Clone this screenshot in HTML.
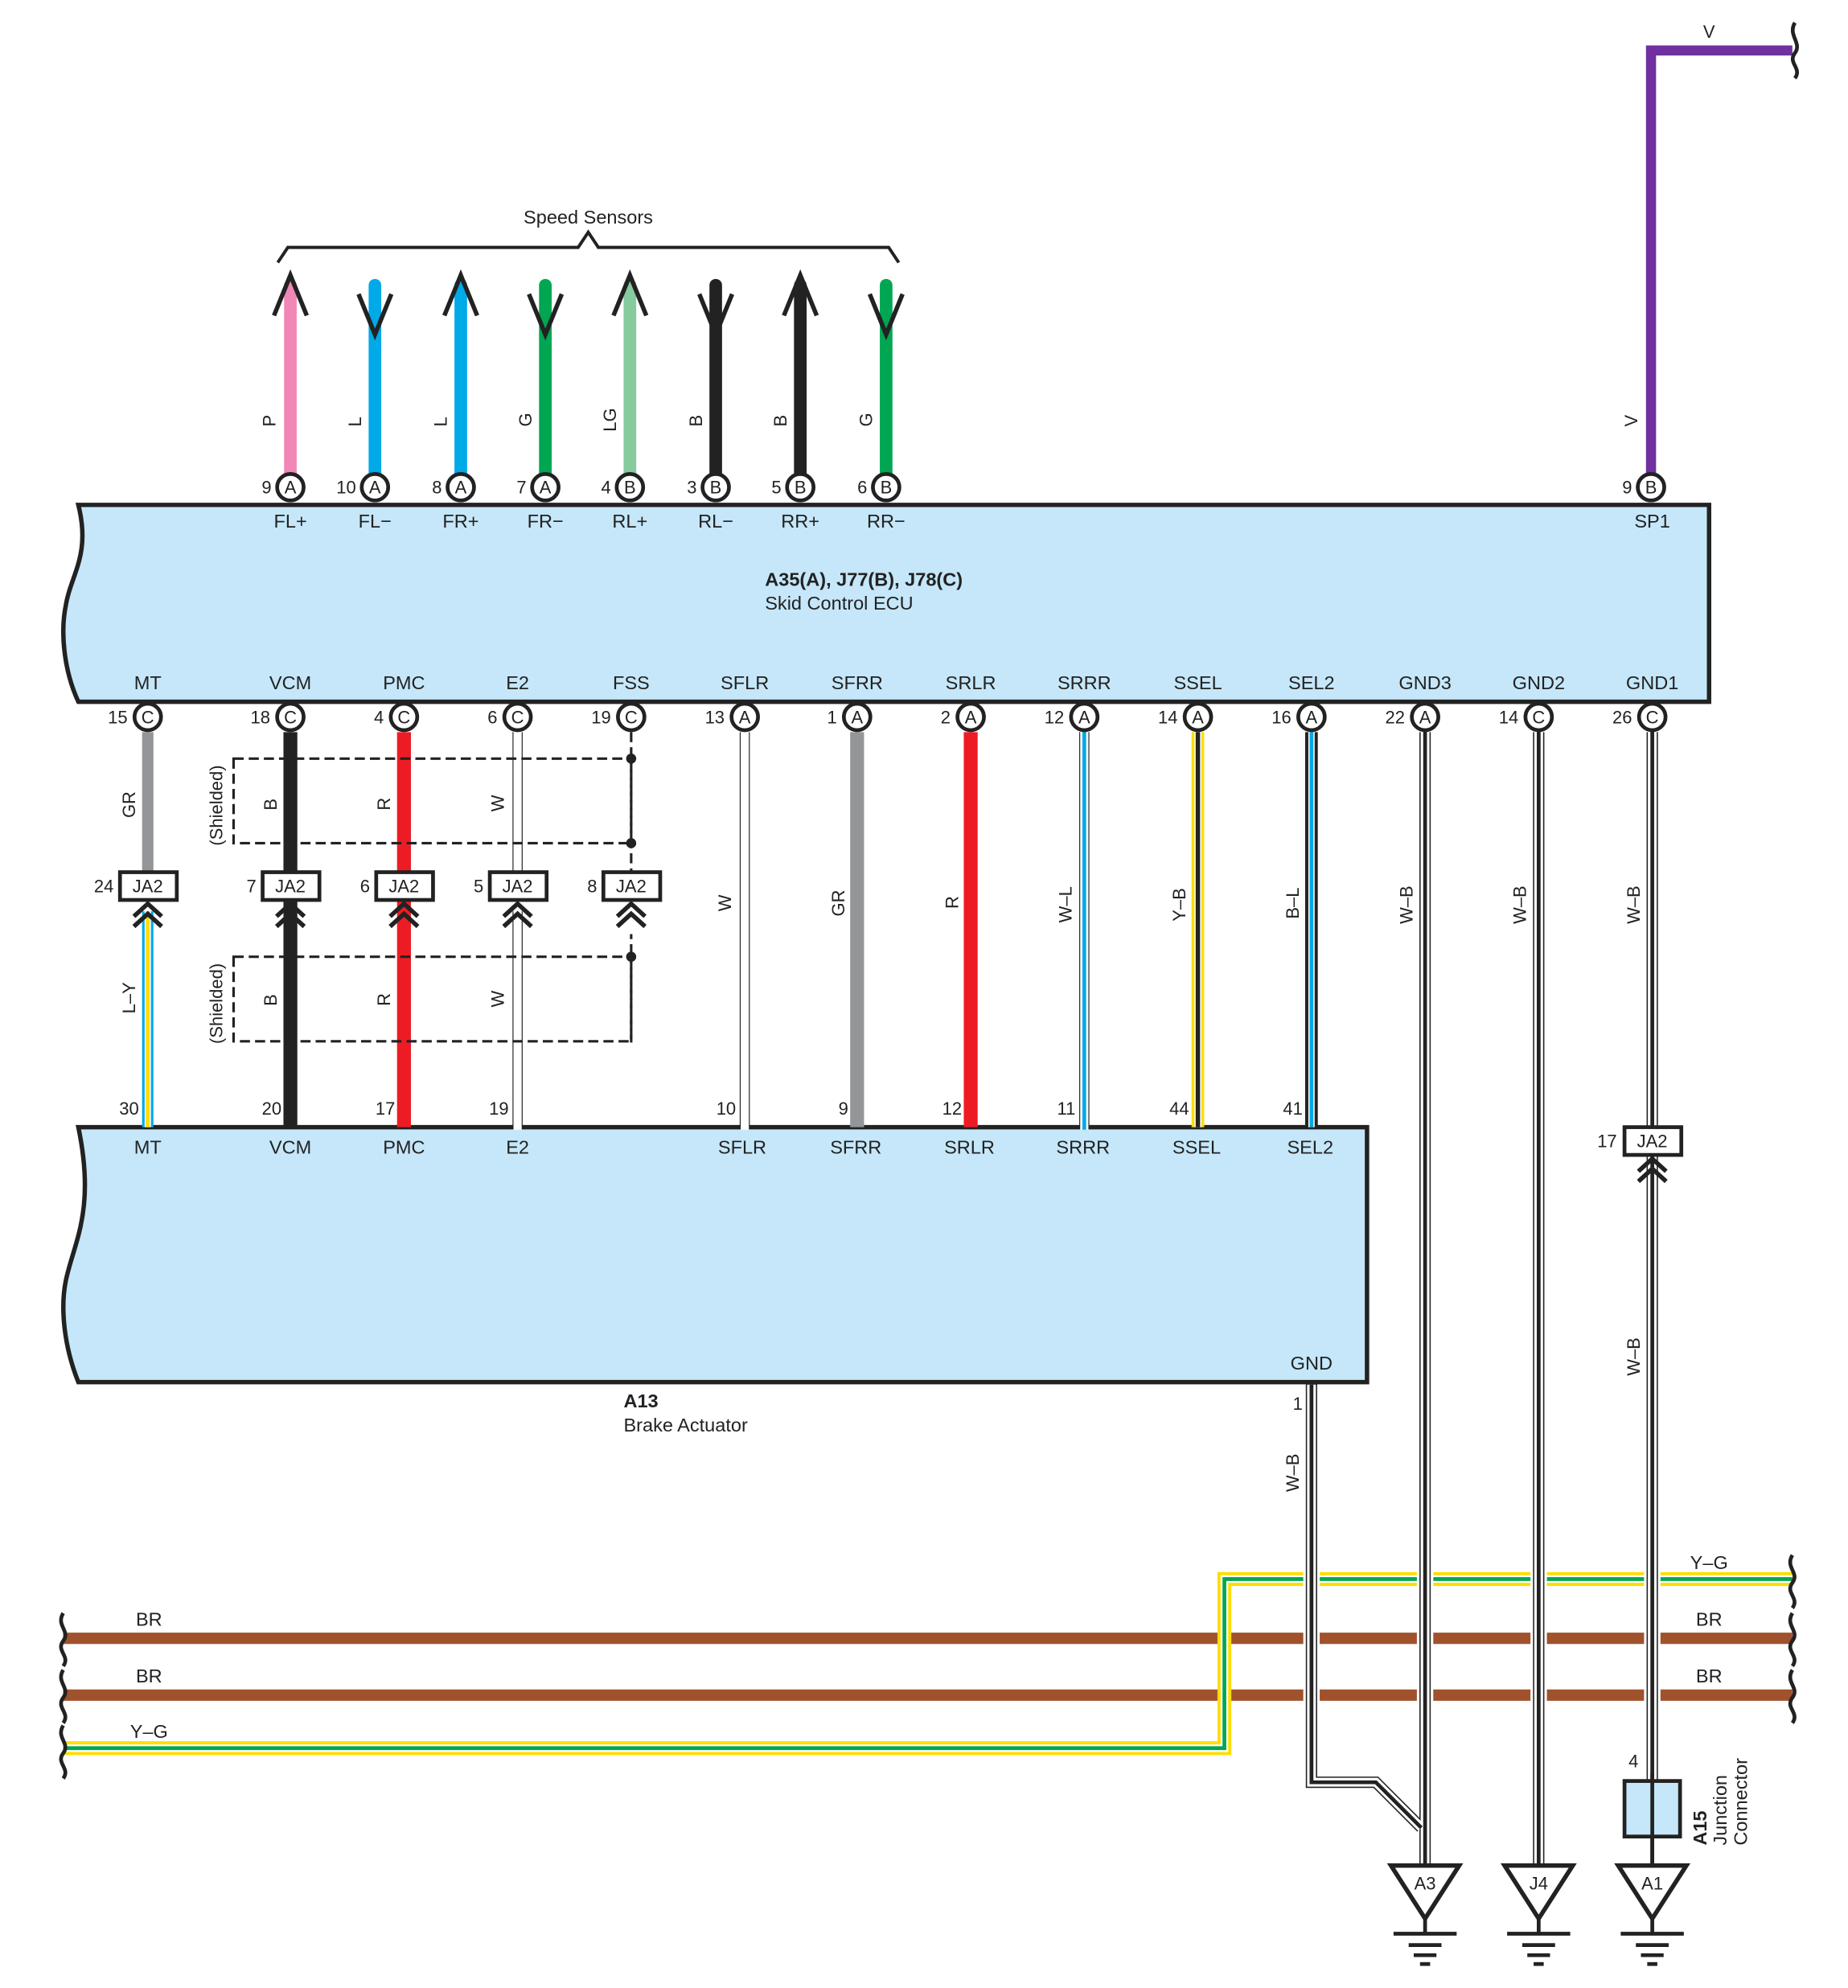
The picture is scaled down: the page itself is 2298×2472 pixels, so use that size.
<!DOCTYPE html>
<html><head><meta charset="utf-8"><style>
html,body{margin:0;padding:0;background:#fff}
svg{display:block}
text{font-family:"Liberation Sans",sans-serif;fill:#222}
</style></head><body>
<svg width="2298" height="2472" viewBox="0 0 1464 1575" xmlns="http://www.w3.org/2000/svg">
<defs>
<g id="chev"><polyline points="-11,12 0,2 11,12" fill="none" stroke="#222" stroke-width="3.5"/><polyline points="-11,20 0,10 11,20" fill="none" stroke="#222" stroke-width="3.5"/></g>
</defs>
<!-- ECU box -->
<path d="M62,400 L1354,400 L1354,556 L62,556 C50,530 48,500 52,480 C56,455 72,440 62,400 Z" fill="#c5e7f9" stroke="#222" stroke-width="3.5"/>
<!-- Brake actuator -->
<path d="M62,893 L1083,893 L1083,1095 L62,1095 C50,1065 48,1035 52,1015 C58,985 76,960 62,893 Z" fill="#c5e7f9" stroke="#222" stroke-width="3.5"/>

<!-- speed sensor bracket -->
<polyline points="220,208 228,196 458,196 466,184 474,196 704,196 712,208" fill="none" stroke="#222" stroke-width="2.5"/>
<text x="466" y="177" font-size="15" text-anchor="middle">Speed Sensors</text>

<!-- speed sensor wires -->
<g stroke-linecap="round" stroke-width="10">
<line x1="230" y1="226" x2="230" y2="375" stroke="#f087b6"/>
<line x1="297" y1="226" x2="297" y2="375" stroke="#00a9e8"/>
<line x1="365" y1="226" x2="365" y2="375" stroke="#00a9e8"/>
<line x1="432" y1="226" x2="432" y2="375" stroke="#00a651"/>
<line x1="499" y1="226" x2="499" y2="375" stroke="#85cb9d"/>
<line x1="567" y1="226" x2="567" y2="375" stroke="#222"/>
<line x1="634" y1="226" x2="634" y2="375" stroke="#222"/>
<line x1="702" y1="226" x2="702" y2="375" stroke="#00a651"/>
</g>
<g fill="none" stroke="#222" stroke-width="3.5">
<polyline points="217,250 230,218 243,250"/>
<polyline points="284,233 297,265 310,233"/>
<polyline points="352,250 365,218 378,250"/>
<polyline points="419,233 432,265 445,233"/>
<polyline points="486,250 499,218 512,250"/>
<polyline points="554,233 567,265 580,233"/>
<polyline points="621,250 634,218 647,250"/>
<polyline points="689,233 702,265 715,233"/>
</g>
<g font-size="14">
<text transform="translate(218,338) rotate(-90)">P</text>
<text transform="translate(286,338) rotate(-90)">L</text>
<text transform="translate(354,338) rotate(-90)">L</text>
<text transform="translate(421,338) rotate(-90)">G</text>
<text transform="translate(488,342) rotate(-90)">LG</text>
<text transform="translate(556,338) rotate(-90)">B</text>
<text transform="translate(623,338) rotate(-90)">B</text>
<text transform="translate(691,338) rotate(-90)">G</text>
<text transform="translate(1297,338) rotate(-90)">V</text>
</g>

<!-- purple V -->
<polyline points="1308,375 1308,40 1420,40" fill="none" stroke="#7030a0" stroke-width="8"/>
<text x="1354" y="30" font-size="14" text-anchor="middle">V</text>
<path d="M1422,18 C1416,28 1428,34 1422,42 C1416,50 1428,54 1422,62" fill="none" stroke="#222" stroke-width="3"/>

<!-- top connectors -->
<g font-size="14">
<g stroke="#222" stroke-width="3" fill="#fff">
<circle cx="230" cy="386" r="10.5"/><circle cx="297" cy="386" r="10.5"/><circle cx="365" cy="386" r="10.5"/><circle cx="432" cy="386" r="10.5"/><circle cx="499" cy="386" r="10.5"/><circle cx="567" cy="386" r="10.5"/><circle cx="634" cy="386" r="10.5"/><circle cx="702" cy="386" r="10.5"/><circle cx="1308" cy="386" r="10.5"/>
</g>
<g text-anchor="middle">
<text x="230" y="391">A</text><text x="297" y="391">A</text><text x="365" y="391">A</text><text x="432" y="391">A</text><text x="499" y="391">B</text><text x="567" y="391">B</text><text x="634" y="391">B</text><text x="702" y="391">B</text><text x="1308" y="391">B</text>
</g>
<g text-anchor="end">
<text x="215" y="391">9</text><text x="282" y="391">10</text><text x="350" y="391">8</text><text x="417" y="391">7</text><text x="484" y="391">4</text><text x="552" y="391">3</text><text x="619" y="391">5</text><text x="687" y="391">6</text><text x="1293" y="391">9</text>
</g>
<g text-anchor="middle" font-size="15">
<text x="230" y="418">FL+</text><text x="297" y="418">FL−</text><text x="365" y="418">FR+</text><text x="432" y="418">FR−</text><text x="499" y="418">RL+</text><text x="567" y="418">RL−</text><text x="634" y="418">RR+</text><text x="702" y="418">RR−</text><text x="1309" y="418">SP1</text>
</g>
</g>
<text x="606" y="464" font-size="15" font-weight="bold">A35(A), J77(B), J78(C)</text>
<text x="606" y="483" font-size="15">Skid Control ECU</text>

<!-- ECU bottom labels -->
<g text-anchor="middle" font-size="15">
<text x="117" y="546">MT</text><text x="230" y="546">VCM</text><text x="320" y="546">PMC</text><text x="410" y="546">E2</text><text x="500" y="546">FSS</text><text x="590" y="546">SFLR</text><text x="679" y="546">SFRR</text><text x="769" y="546">SRLR</text><text x="859" y="546">SRRR</text><text x="949" y="546">SSEL</text><text x="1039" y="546">SEL2</text><text x="1129" y="546">GND3</text><text x="1219" y="546">GND2</text><text x="1309" y="546">GND1</text>
</g>

<!-- lower wires -->
<line x1="117" y1="580" x2="117" y2="690" stroke="#939598" stroke-width="9"/>
<line x1="117" y1="722" x2="117" y2="893" stroke="#00a9e8" stroke-width="9"/>
<line x1="117" y1="722" x2="117" y2="893" stroke="#fff" stroke-width="5"/>
<line x1="117" y1="722" x2="117" y2="893" stroke="#ffdd00" stroke-width="3"/>
<line x1="230" y1="580" x2="230" y2="893" stroke="#222" stroke-width="11"/>
<line x1="320" y1="580" x2="320" y2="893" stroke="#ed1c24" stroke-width="11"/>
<g>
<line x1="410" y1="580" x2="410" y2="893" stroke="#222" stroke-width="8"/><line x1="410" y1="578" x2="410" y2="895" stroke="#fff" stroke-width="6.5"/>
<line x1="590" y1="580" x2="590" y2="893" stroke="#222" stroke-width="8"/><line x1="590" y1="578" x2="590" y2="895" stroke="#fff" stroke-width="6.5"/>
</g>
<line x1="410" y1="690" x2="410" y2="722" stroke="#fff" stroke-width="10"/>
<line x1="500" y1="580" x2="500" y2="826" stroke="#222" stroke-width="2" stroke-dasharray="8,4"/>
<line x1="500" y1="690" x2="500" y2="740" stroke="#fff" stroke-width="6"/>
<line x1="679" y1="580" x2="679" y2="893" stroke="#939598" stroke-width="11"/>
<line x1="769" y1="580" x2="769" y2="893" stroke="#ed1c24" stroke-width="11"/>
<line x1="859" y1="580" x2="859" y2="893" stroke="#222" stroke-width="8"/><line x1="859" y1="578" x2="859" y2="895" stroke="#fff" stroke-width="6.5"/><line x1="859" y1="578" x2="859" y2="895" stroke="#00a9e8" stroke-width="3"/>
<line x1="949" y1="580" x2="949" y2="893" stroke="#ffdd00" stroke-width="10"/><line x1="949" y1="580" x2="949" y2="893" stroke="#fff" stroke-width="5.5"/><line x1="949" y1="580" x2="949" y2="893" stroke="#222" stroke-width="3.5"/>
<line x1="1039" y1="580" x2="1039" y2="893" stroke="#222" stroke-width="10"/><line x1="1039" y1="580" x2="1039" y2="893" stroke="#fff" stroke-width="5"/><line x1="1039" y1="580" x2="1039" y2="893" stroke="#00a9e8" stroke-width="3"/>

<!-- bus lines (drawn before ground wires) -->
<line x1="50" y1="1298" x2="1420" y2="1298" stroke="#a0522d" stroke-width="9"/>
<line x1="50" y1="1343" x2="1420" y2="1343" stroke="#a0522d" stroke-width="9"/>
<polyline points="50,1385 970,1385 970,1251 1420,1251" fill="none" stroke="#ffdd00" stroke-width="11"/>
<polyline points="50,1385 970,1385 970,1251 1420,1251" fill="none" stroke="#fff" stroke-width="6"/>
<polyline points="50,1385 970,1385 970,1251 1420,1251" fill="none" stroke="#00a651" stroke-width="3"/>

<!-- W-B ground wires -->
<g fill="none" stroke-linejoin="miter">
<g stroke="#fff" stroke-width="13"><line x1="1129" y1="1230" x2="1129" y2="1400"/><line x1="1219" y1="1230" x2="1219" y2="1400"/><line x1="1309" y1="1230" x2="1309" y2="1400"/><line x1="1039" y1="1230" x2="1039" y2="1400"/></g>
<g stroke="#222" stroke-width="9"><line x1="1129" y1="580" x2="1129" y2="1478"/><line x1="1219" y1="580" x2="1219" y2="1478"/><line x1="1309" y1="580" x2="1309" y2="1410"/><polyline points="1039,1095 1039,1412 1090,1412 1126,1448"/></g>
<g stroke="#fff" stroke-width="7"><line x1="1129" y1="578" x2="1129" y2="1478"/><line x1="1219" y1="578" x2="1219" y2="1478"/><line x1="1309" y1="578" x2="1309" y2="1410"/><polyline points="1039,1097 1039,1412 1090,1412 1126,1448"/></g>
<g stroke="#222" stroke-width="3"><line x1="1129" y1="578" x2="1129" y2="1478"/><line x1="1219" y1="578" x2="1219" y2="1478"/><line x1="1309" y1="578" x2="1309" y2="1478"/><polyline points="1039,1097 1039,1412 1090,1412 1126,1448"/></g>
</g>

<!-- shield boxes -->
<g fill="none" stroke="#222" stroke-width="2" stroke-dasharray="8,4">
<rect x="185" y="601" width="315" height="67"/>
<rect x="185" y="758" width="315" height="67"/>
</g>
<g fill="#222"><circle cx="500" cy="601" r="4"/><circle cx="500" cy="668" r="4"/><circle cx="500" cy="758" r="4"/></g>
<g font-size="14">
<text transform="translate(176,670) rotate(-90)">(Shielded)</text>
<text transform="translate(176,827) rotate(-90)">(Shielded)</text>
</g>

<!-- bottom ECU connectors -->
<g font-size="14">
<g stroke="#222" stroke-width="3" fill="#fff">
<circle cx="117" cy="568" r="10.5"/><circle cx="230" cy="568" r="10.5"/><circle cx="320" cy="568" r="10.5"/><circle cx="410" cy="568" r="10.5"/><circle cx="500" cy="568" r="10.5"/><circle cx="590" cy="568" r="10.5"/><circle cx="679" cy="568" r="10.5"/><circle cx="769" cy="568" r="10.5"/><circle cx="859" cy="568" r="10.5"/><circle cx="949" cy="568" r="10.5"/><circle cx="1039" cy="568" r="10.5"/><circle cx="1129" cy="568" r="10.5"/><circle cx="1219" cy="568" r="10.5"/><circle cx="1309" cy="568" r="10.5"/>
</g>
<g text-anchor="middle">
<text x="117" y="573">C</text><text x="230" y="573">C</text><text x="320" y="573">C</text><text x="410" y="573">C</text><text x="500" y="573">C</text><text x="590" y="573">A</text><text x="679" y="573">A</text><text x="769" y="573">A</text><text x="859" y="573">A</text><text x="949" y="573">A</text><text x="1039" y="573">A</text><text x="1129" y="573">A</text><text x="1219" y="573">C</text><text x="1309" y="573">C</text>
</g>
<g text-anchor="end">
<text x="101" y="573">15</text><text x="214" y="573">18</text><text x="304" y="573">4</text><text x="394" y="573">6</text><text x="484" y="573">19</text><text x="574" y="573">13</text><text x="663" y="573">1</text><text x="753" y="573">2</text><text x="843" y="573">12</text><text x="933" y="573">14</text><text x="1023" y="573">16</text><text x="1113" y="573">22</text><text x="1203" y="573">14</text><text x="1293" y="573">26</text>
</g>
</g>

<!-- JA2 boxes -->
<g font-size="14">
<g stroke="#222" stroke-width="3" fill="#fff">
<rect x="95" y="691" width="45" height="22"/><rect x="208" y="691" width="45" height="22"/><rect x="298" y="691" width="45" height="22"/><rect x="388" y="691" width="45" height="22"/><rect x="478" y="691" width="45" height="22"/><rect x="1287" y="893" width="45" height="22"/>
</g>
<g text-anchor="middle">
<text x="117" y="707">JA2</text><text x="230" y="707">JA2</text><text x="320" y="707">JA2</text><text x="410" y="707">JA2</text><text x="500" y="707">JA2</text><text x="1309" y="909">JA2</text>
</g>
<g text-anchor="end">
<text x="90" y="707">24</text><text x="203" y="707">7</text><text x="293" y="707">6</text><text x="383" y="707">5</text><text x="473" y="707">8</text><text x="1281" y="909">17</text>
</g>
</g>
<use href="#chev" x="117" y="714"/><use href="#chev" x="230" y="714"/><use href="#chev" x="320" y="714"/><use href="#chev" x="410" y="714"/><use href="#chev" x="500" y="714"/><use href="#chev" x="1309" y="916"/>

<!-- wire color labels -->
<g font-size="14">
<text transform="translate(107,648) rotate(-90)">GR</text>
<text transform="translate(107,803) rotate(-90)">L–Y</text>
<text transform="translate(219,642) rotate(-90)">B</text>
<text transform="translate(219,797) rotate(-90)">B</text>
<text transform="translate(309,642) rotate(-90)">R</text>
<text transform="translate(309,797) rotate(-90)">R</text>
<text transform="translate(399,643) rotate(-90)">W</text>
<text transform="translate(399,798) rotate(-90)">W</text>
<text transform="translate(579,722) rotate(-90)">W</text>
<text transform="translate(669,726) rotate(-90)">GR</text>
<text transform="translate(759,720) rotate(-90)">R</text>
<text transform="translate(849,731) rotate(-90)">W–L</text>
<text transform="translate(939,730) rotate(-90)">Y–B</text>
<text transform="translate(1029,728) rotate(-90)">B–L</text>
<text transform="translate(1119,732) rotate(-90)">W–B</text>
<text transform="translate(1209,732) rotate(-90)">W–B</text>
<text transform="translate(1299,732) rotate(-90)">W–B</text>
<text transform="translate(1299,1090) rotate(-90)">W–B</text>
<text transform="translate(1029,1182) rotate(-90)">W–B</text>
</g>

<!-- actuator pins -->
<g font-size="14" text-anchor="end">
<text x="110" y="883">30</text><text x="223" y="883">20</text><text x="313" y="883">17</text><text x="403" y="883">19</text><text x="583" y="883">10</text><text x="672" y="883">9</text><text x="762" y="883">12</text><text x="852" y="883">11</text><text x="942" y="883">44</text><text x="1032" y="883">41</text><text x="1032" y="1117">1</text>
</g>
<g text-anchor="middle" font-size="15">
<text x="117" y="914">MT</text><text x="230" y="914">VCM</text><text x="320" y="914">PMC</text><text x="410" y="914">E2</text><text x="588" y="914">SFLR</text><text x="678" y="914">SFRR</text><text x="768" y="914">SRLR</text><text x="858" y="914">SRRR</text><text x="948" y="914">SSEL</text><text x="1038" y="914">SEL2</text><text x="1039" y="1085">GND</text>
</g>
<text x="494" y="1115" font-size="15" font-weight="bold">A13</text>
<text x="494" y="1134" font-size="15">Brake Actuator</text>

<g font-size="15" text-anchor="middle">
<text x="118" y="1288">BR</text><text x="118" y="1333">BR</text><text x="118" y="1377">Y–G</text>
<text x="1354" y="1243">Y–G</text><text x="1354" y="1288">BR</text><text x="1354" y="1333">BR</text>
</g>
<!-- break marks -->
<g fill="none" stroke="#222" stroke-width="3">
<path d="M50,1278 C44,1288 56,1292 50,1300 C44,1308 56,1312 50,1320"/>
<path d="M50,1323 C44,1333 56,1337 50,1345 C44,1353 56,1357 50,1365"/>
<path d="M50,1367 C44,1377 56,1381 50,1389 C44,1397 56,1401 50,1409"/>
<path d="M1420,1232 C1414,1242 1426,1246 1420,1254 C1414,1262 1426,1266 1420,1274"/>
<path d="M1420,1278 C1414,1288 1426,1292 1420,1300 C1414,1308 1426,1312 1420,1320"/>
<path d="M1420,1323 C1414,1333 1426,1337 1420,1345 C1414,1353 1426,1357 1420,1365"/>
</g>

<!-- junction connector A15 -->
<rect x="1287" y="1411" width="44" height="44" fill="#c5e7f9" stroke="#222" stroke-width="3"/>
<line x1="1309" y1="1405" x2="1309" y2="1478" stroke="#222" stroke-width="3"/>
<text x="1298" y="1400" font-size="14" text-anchor="end">4</text>
<text transform="translate(1352,1462) rotate(-90)" font-size="15" font-weight="bold">A15</text>
<text transform="translate(1368,1462) rotate(-90)" font-size="15">Junction</text>
<text transform="translate(1384,1462) rotate(-90)" font-size="15">Connector</text>

<!-- grounds -->
<g fill="#fff" stroke="#222" stroke-width="3.5">
<polygon points="1102,1478 1156,1478 1129,1520"/><polygon points="1192,1478 1246,1478 1219,1520"/><polygon points="1282,1478 1336,1478 1309,1520"/>
</g>
<g stroke="#222" stroke-width="3">
<line x1="1129" y1="1520" x2="1129" y2="1532"/><line x1="1219" y1="1520" x2="1219" y2="1532"/><line x1="1309" y1="1520" x2="1309" y2="1532"/>
<line x1="1104" y1="1532" x2="1154" y2="1532"/><line x1="1116" y1="1541" x2="1142" y2="1541"/><line x1="1120" y1="1549" x2="1138" y2="1549"/><line x1="1125" y1="1556" x2="1133" y2="1556"/>
<line x1="1194" y1="1532" x2="1244" y2="1532"/><line x1="1206" y1="1541" x2="1232" y2="1541"/><line x1="1210" y1="1549" x2="1228" y2="1549"/><line x1="1215" y1="1556" x2="1223" y2="1556"/>
<line x1="1284" y1="1532" x2="1334" y2="1532"/><line x1="1296" y1="1541" x2="1322" y2="1541"/><line x1="1300" y1="1549" x2="1318" y2="1549"/><line x1="1305" y1="1556" x2="1313" y2="1556"/>
</g>
<g font-size="14" text-anchor="middle">
<text x="1129" y="1497">A3</text><text x="1219" y="1497">J4</text><text x="1309" y="1497">A1</text>
</g>
</svg>
</body></html>
